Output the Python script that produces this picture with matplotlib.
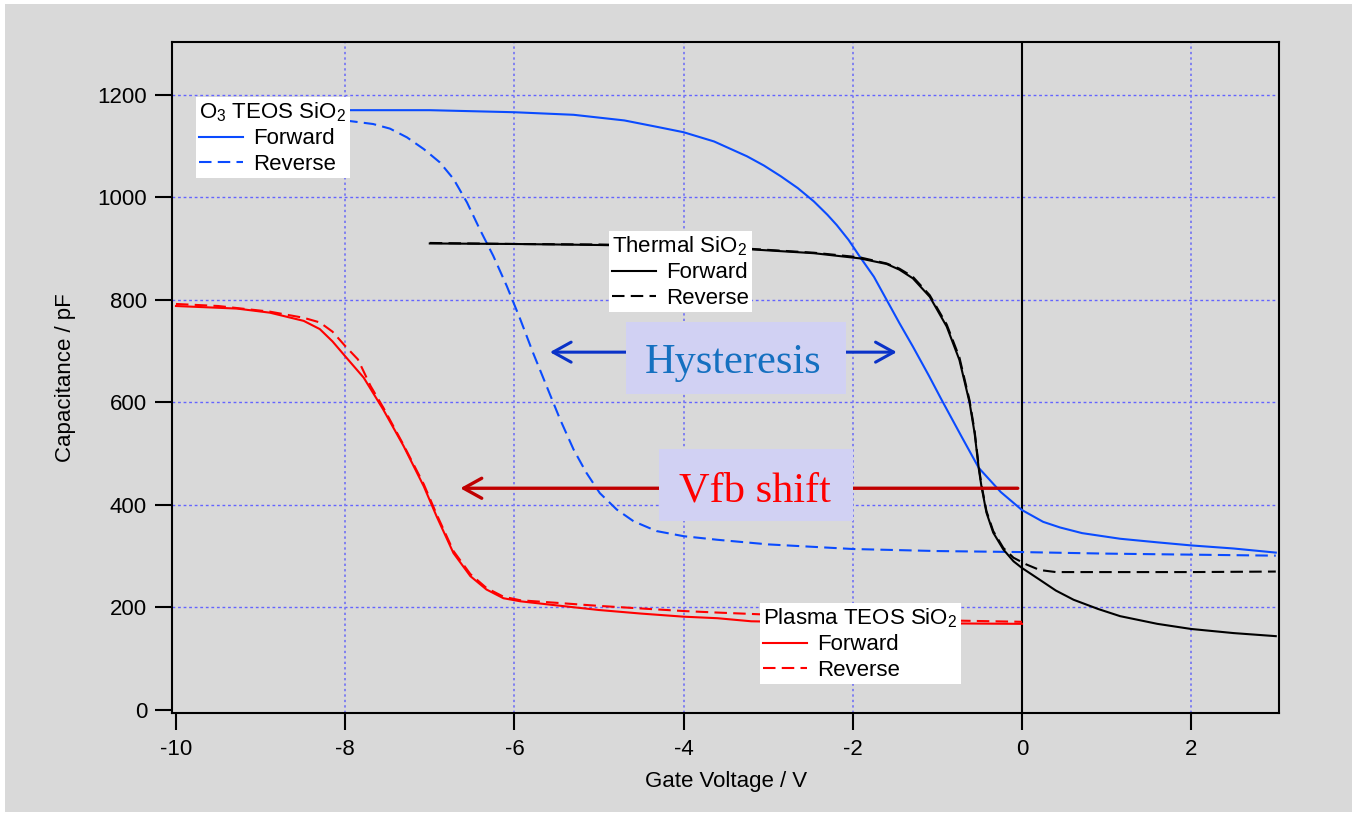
import matplotlib
matplotlib.use('Agg')
import matplotlib.pyplot as plt
from matplotlib.lines import Line2D
from matplotlib.patches import Rectangle

plt.rcParams['font.family'] = ['Liberation Sans', 'DejaVu Sans']
plt.rcParams['mathtext.fontset'] = 'custom'
plt.rcParams['mathtext.rm'] = 'Liberation Sans'
plt.rcParams['axes.unicode_minus'] = False

# ---------------- data ----------------
o3_fwd_v = [-8, -7.5, -7, -6.5, -6, -5.3, -4.7, -4.3, -4, -3.64, -3.25, -3.05, -2.85, -2.65, -2.46,
            -2.3, -2.19, -2.05, -1.92, -1.75, -1.6, -1.45, -1.29, -1.1, -0.95, -0.72, -0.51, -0.25,
            0, 0.25, 0.45, 0.71, 1.16, 1.6, 2, 2.5, 3]
o3_fwd_c = [1170, 1170, 1170, 1168, 1166, 1161, 1150, 1137, 1127, 1109, 1080, 1062, 1041, 1018, 992,
            966, 946, 917, 885, 845, 800, 755, 709, 652, 605, 535, 472, 425,
            390, 367, 356, 345, 334, 327, 321, 315, 307]

o3_rev_v = [-8, -7.67, -7.47, -7.27, -7.07, -6.88, -6.72, -6.56, -6.41, -6.25, -6.09, -5.93, -5.78,
            -5.62, -5.46, -5.30, -5.15, -4.99, -4.79, -4.59, -4.32, -4.0, -3.6, -3, -2, -1, 0, 1, 2, 3]
o3_rev_c = [1150, 1143, 1134, 1117, 1094, 1068, 1036, 990, 938, 886, 827, 762, 697,
            632, 567, 508, 463, 423, 391, 368, 349, 339, 332, 323, 314, 310, 308, 305, 303, 301]

th_fwd_v = [-7, -6, -5, -4, -3.25, -2.46, -1.92, -1.6, -1.45, -1.29, -1.09, -0.89, -0.74, -0.62,
            -0.56, -0.51, -0.48, -0.42, -0.34, -0.22, -0.10, 0, 0.21, 0.4, 0.61, 0.9, 1.16, 1.6, 2,
            2.5, 3]
th_fwd_c = [910, 909, 907, 904, 899, 891, 881, 870, 859, 842, 806, 748, 683, 600,
            540, 470, 437, 385, 346, 313, 290, 277, 254, 233, 215, 197, 183, 168, 158,
            150, 144]

th_rev_v = [-7, -6, -5, -4, -3.25, -2.46, -1.92, -1.6, -1.45, -1.29, -1.09, -0.89, -0.74, -0.62,
            -0.56, -0.51, -0.48, -0.42, -0.34, -0.22, -0.10, 0.05, 0.21, 0.4, 1, 2, 3]
th_rev_c = [911, 909, 908, 905, 900, 892, 883, 871, 861, 845, 809, 752, 688, 604,
            544, 474, 440, 388, 349, 316, 297, 284, 273, 269, 269, 269, 270]

pl_fwd_v = [-10, -9.28, -8.89, -8.49, -8.30, -8.15, -8.0, -7.78, -7.55, -7.31, -7.07, -6.92, -6.72,
            -6.52, -6.33, -6.13, -5.93, -5.5, -5, -4.5, -4, -3.6, -3.2, -2.5, -2, -1, 0]
pl_fwd_c = [788, 783, 775, 759, 743, 719, 690, 648, 586, 515, 436, 378, 306,
            261, 235, 218, 212, 204, 195, 188, 182, 179, 173, 171, 170, 169, 168]

pl_rev_v = [-10, -9.5, -8.89, -8.49, -8.30, -8.15, -8.0, -7.85, -7.70, -7.55, -7.31, -7.07, -6.92,
            -6.72, -6.52, -6.33, -6.13, -5.93, -5.5, -5, -4.5, -4, -3.6, -3, -2, -1, 0]
pl_rev_c = [792, 788, 777, 765, 756, 738, 710, 684, 632, 590, 517, 440, 382,
            310, 265, 238, 221, 214, 209, 203, 198, 193, 190, 186, 180, 175, 172]

x_ticks = [-10, -8, -6, -4, -2, 0, 2]
y_ticks = [0, 200, 400, 600, 800, 1000, 1200]

# ---------------- figure ----------------
W, H = 1356, 816
fig = plt.figure(figsize=(W / 100, H / 100), dpi=100)
fig.patch.set_facecolor('white')
fig.patches.append(Rectangle((5 / W, 4 / H), 1347 / W, 808 / H, transform=fig.transFigure,
                             facecolor='#d9d9d9', edgecolor='none', zorder=-10))

ax = fig.add_axes([172 / W, 1 - 713 / H, (1279 - 172) / W, (713 - 42) / H])
ax.set_zorder(1)
ax.set_facecolor('#d9d9d9')
ax.set_xlim(-10.047, 3.038)
ax.set_ylim(-5.9, 1303)

BLUE = '#0a4bff'
RED = '#ff0000'
DASH = (0, (6, 3))
LW = 1.5

# grid
for v in y_ticks:
    if v > 0:
        ax.axhline(v, color='#6464ff', lw=1.0, ls=(0, (2, 2)), zorder=1)
for v in x_ticks:
    if v not in (-10, 0):
        ax.axvline(v, color='#8080f0', lw=1.4, ls=(0, (1.2, 1.6)), zorder=1)
ax.axvline(0, color='black', lw=1.5, zorder=2)

# curves
ax.plot(o3_fwd_v, o3_fwd_c, color=BLUE, lw=LW, zorder=3)
ax.plot(o3_rev_v, o3_rev_c, color=BLUE, lw=LW, ls=DASH, zorder=3)
ax.plot(th_fwd_v, th_fwd_c, color='black', lw=LW, zorder=3)
ax.plot(th_rev_v, th_rev_c, color='black', lw=LW, ls=DASH, zorder=3)
ax.plot(pl_fwd_v, pl_fwd_c, color=RED, lw=LW, zorder=3)
ax.plot(pl_rev_v, pl_rev_c, color=RED, lw=LW, ls=DASH, zorder=3)

# arrows
ax.annotate('', xy=(-5.58, 698), xytext=(-1.48, 698),
            arrowprops=dict(arrowstyle='<->,head_length=1.3,head_width=0.72', color='#0a32c8',
                            lw=2.2, shrinkA=0, shrinkB=0, mutation_scale=10), zorder=3.5)
ax.annotate('', xy=(-6.64, 432.5), xytext=(-0.05, 432.5),
            arrowprops=dict(arrowstyle='->,head_length=1.3,head_width=0.72', color='#c00000',
                            lw=2.4, shrinkA=0, shrinkB=0, mutation_scale=10), zorder=3.5)

# text boxes
BOX = '#d1d1f3'
ax.add_patch(Rectangle((-4.68, 617), 2.60, 140, facecolor=BOX, edgecolor='none', zorder=4))
ax.text(-3.42, 658, 'Hysteresis', family=['Liberation Serif', 'DejaVu Serif'], fontsize=30.5,
        color='#1570c0', ha='center', va='baseline', zorder=5)
ax.add_patch(Rectangle((-4.29, 369), 2.29, 140, facecolor=BOX, edgecolor='none', zorder=4))
ax.text(-3.16, 406, 'Vfb shift', family=['Liberation Serif', 'DejaVu Serif'], fontsize=30.5,
        color=RED, ha='center', va='baseline', zorder=5)

# axes styling
for s in ax.spines.values():
    s.set_linewidth(1.5)
    s.set_color('black')
ax.set_xticks(x_ticks)
ax.set_yticks(y_ticks)
ax.tick_params(axis='both', direction='out', length=12, width=1.5, labelsize=16,
               top=False, right=False)
ax.tick_params(axis='x', pad=7)
ax.tick_params(axis='y', pad=6)
ax.set_xlabel('Gate Voltage / V', fontsize=16)
ax.set_ylabel('Capacitance / pF', fontsize=16)
ax.xaxis.label.set_va('center')
ax.yaxis.label.set_va('center')
ax.xaxis.set_label_coords((726 - 172) / 1107, -(782 - 713) / 671)
ax.yaxis.set_label_coords((65 - 172) / 1107, 0.5)


# legends
def add_legend(color, title, x_px, y_px):
    handles = [Line2D([], [], color=color, lw=LW), Line2D([], [], color=color, lw=LW, ls=DASH)]
    leg = fig.legend(handles, ['Forward', 'Reverse'], title=title, loc='upper left',
                     bbox_to_anchor=(x_px / W, 1 - y_px / H), bbox_transform=fig.transFigure,
                     borderaxespad=0, fontsize=16, title_fontsize=16, frameon=True,
                     fancybox=False, shadow=False, framealpha=1, facecolor='white',
                     edgecolor='white', borderpad=0.15, labelspacing=0.2, handlelength=1.95,
                     handletextpad=0.45, alignment='left')
    leg.get_frame().set_linewidth(0)
    leg.set_zorder(6)
    return leg


add_legend(BLUE, r'O$_\mathregular{3}$ TEOS SiO$_\mathregular{2}$', 196, 97)
add_legend('black', r'Thermal SiO$_\mathregular{2}$', 609, 231)
add_legend(RED, r'Plasma TEOS SiO$_\mathregular{2}$', 760, 603)

fig.savefig('out.png', dpi=100, facecolor='white')
